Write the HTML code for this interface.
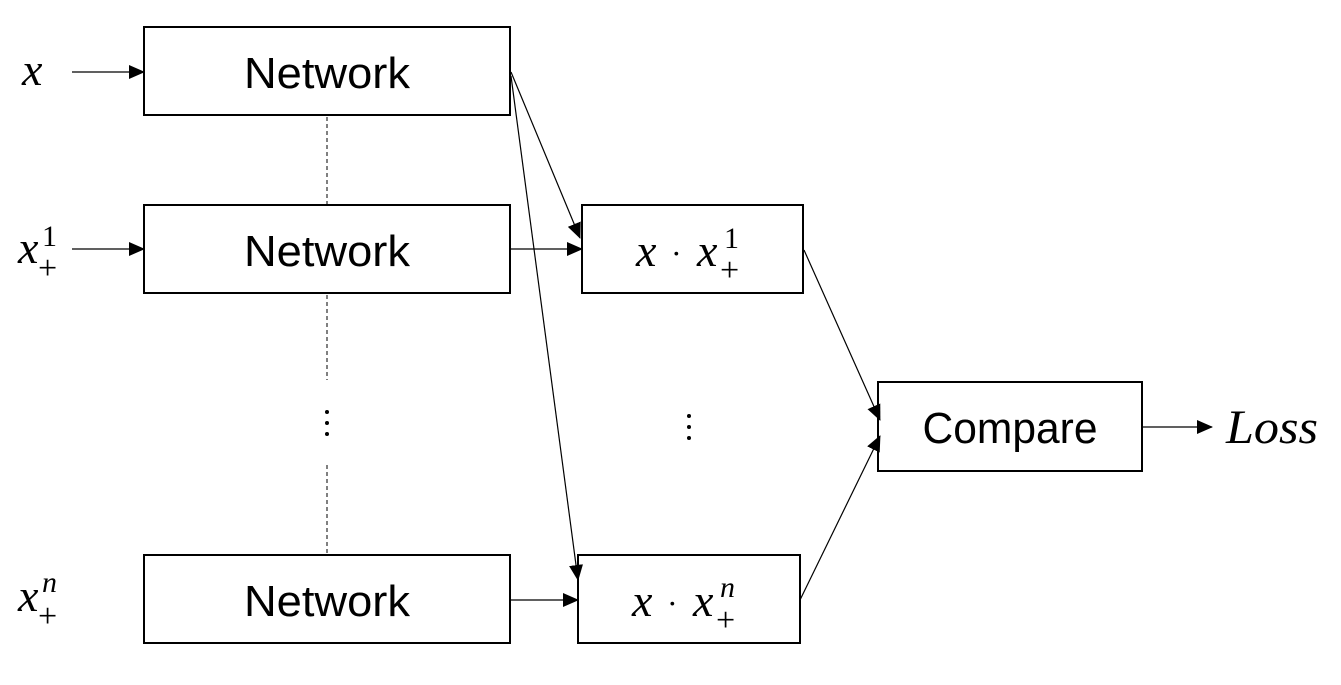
<!DOCTYPE html>
<html><head><style>
body{margin:0;background:#fff}
.s{font-family:"Liberation Sans",sans-serif}
.m text{font-family:"Liberation Serif",serif;font-style:italic}
.m text.u{font-style:normal}
</style></head><body>
<svg width="1341" height="680" viewBox="0 0 1341 680" xmlns="http://www.w3.org/2000/svg">
<defs><marker id="a" markerWidth="16" markerHeight="14" refX="15" refY="7" orient="auto" markerUnits="userSpaceOnUse"><path d="M0,0L16,7L0,14Z" fill="#000"/></marker></defs>
<g fill="#fff" stroke="#000" stroke-width="2">
<rect x="144" y="27" width="366" height="88"/>
<rect x="144" y="205" width="366" height="88"/>
<rect x="144" y="555" width="366" height="88"/>
<rect x="582" y="205" width="221" height="88"/>
<rect x="578" y="555" width="222" height="88"/>
<rect x="878" y="382" width="264" height="89"/>
</g>
<g stroke="#000" stroke-width="1.2" fill="none">
<line x1="72" y1="72" x2="144" y2="72" marker-end="url(#a)"/>
<line x1="72" y1="249" x2="144" y2="249" marker-end="url(#a)"/>
<line x1="511" y1="72" x2="580" y2="238" marker-end="url(#a)"/>
<line x1="511" y1="76" x2="578" y2="580" marker-end="url(#a)"/>
<line x1="511" y1="249" x2="582" y2="249" marker-end="url(#a)"/>
<line x1="511" y1="600" x2="578" y2="600" marker-end="url(#a)"/>
<line x1="804" y1="250" x2="880" y2="420" marker-end="url(#a)"/>
<line x1="800" y1="600" x2="880" y2="436" marker-end="url(#a)"/>
<line x1="1143" y1="427" x2="1212" y2="427" marker-end="url(#a)"/>
<g stroke-dasharray="4,3" stroke-width="1">
<line x1="327" y1="117" x2="327" y2="205"/>
<line x1="327" y1="295" x2="327" y2="380"/>
<line x1="327" y1="465" x2="327" y2="553"/>
</g>
</g>
<g fill="#000">
<circle cx="327" cy="412" r="2"/><circle cx="327" cy="423" r="2"/><circle cx="327" cy="434" r="2"/>
<circle cx="689" cy="416" r="2"/><circle cx="689" cy="427" r="2"/><circle cx="689" cy="438" r="2"/>
</g>
<g font-size="44" text-anchor="middle" class="s">
<text x="327" y="88" textLength="166" lengthAdjust="spacingAndGlyphs">Network</text>
<text x="327" y="266" textLength="166" lengthAdjust="spacingAndGlyphs">Network</text>
<text x="327" y="616" textLength="166" lengthAdjust="spacingAndGlyphs">Network</text>
<text x="1010" y="443" textLength="175" lengthAdjust="spacingAndGlyphs">Compare</text>
</g>
<g class="m" font-size="46">
<text x="22" y="85">x</text>
<text x="18" y="263">x</text>
<text x="42" y="246" font-size="30" class="u">1</text>
<text x="38" y="279" font-size="34" class="u">+</text>
<text x="18" y="611">x</text>
<text x="42" y="592" font-size="30">n</text>
<text x="38" y="627" font-size="34" class="u">+</text>
<text x="636" y="266">x</text>
<text x="671" y="264" class="u" font-size="32">·</text>
<text x="697" y="266">x</text>
<text x="724" y="248" font-size="30" class="u">1</text>
<text x="720" y="281" font-size="34" class="u">+</text>
<text x="632" y="616">x</text>
<text x="667" y="614" class="u" font-size="32">·</text>
<text x="693" y="616">x</text>
<text x="720" y="597" font-size="30">n</text>
<text x="716" y="631" font-size="34" class="u">+</text>
<text x="1226" y="443" font-size="48" textLength="92" lengthAdjust="spacingAndGlyphs">Loss</text>
</g>
</svg>
</body></html>
